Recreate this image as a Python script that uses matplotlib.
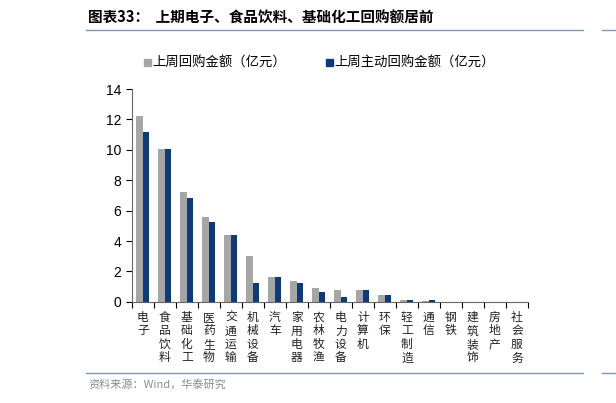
import matplotlib.pyplot as plt
import numpy as np
from matplotlib.lines import Line2D
from matplotlib.patches import Rectangle

plt.rcParams['font.family'] = ['Noto Sans CJK SC', 'DejaVu Sans']

categories = ['电子', '食品饮料', '基础化工', '医药生物', '交通运输', '机械设备', '汽车',
              '家用电器', '农林牧渔', '电力设备', '计算机', '环保', '轻工制造', '通信',
              '钢铁', '建筑装饰', '房地产', '社会服务']
total_buyback = [12.23, 10.08, 7.23, 5.61, 4.43, 3.0, 1.64, 1.34, 0.88, 0.81, 0.77,
                 0.42, 0.11, 0.08, 0.02, 0.0, 0.0, 0.0]
active_buyback = [11.18, 10.08, 6.8, 5.24, 4.43, 1.27, 1.64, 1.23, 0.66, 0.29, 0.77,
                  0.42, 0.11, 0.1, 0.0, 0.0, 0.0, 0.0]

GRAY = '#A6A6A6'
NAVY = '#0B3A7E'
LINE = '#7F97B9'

fig = plt.figure(figsize=(6.16, 4.03), dpi=100)
ax = fig.add_axes([0.214, 0.251, 0.643, 0.528])

x = np.arange(len(categories))
w = 0.3
ax.bar(x - w / 2, total_buyback, w, color=GRAY, label='上周回购金额（亿元）')
ax.bar(x + w / 2, active_buyback, w, color=NAVY, label='上周主动回购金额（亿元）')

ax.set_xlim(-0.5, len(categories) - 0.5)
ax.set_ylim(0, 14)
ax.set_yticks(range(0, 15, 2))
ax.tick_params(axis='y', labelsize=10, length=4, direction='out', width=0.8)
for lbl in ax.get_yticklabels():
    lbl.set_fontfamily(['Liberation Sans', 'DejaVu Sans'])

ax.set_xticks(np.arange(-0.5, len(categories), 1.0))
ax.set_xticklabels([])
ax.tick_params(axis='x', length=4, direction='out', width=0.8)
for i, c in enumerate(categories):
    ax.text(i, -0.6, '\n'.join(c), ha='center', va='top', fontsize=8.5,
            linespacing=1.05, color='#222222')

for s in ['top', 'right']:
    ax.spines[s].set_visible(False)
ax.spines['left'].set_color('#666666')
ax.spines['bottom'].set_color('#666666')

# legend (square markers as patches)
sq_w, sq_h = 0.011, 0.017
fig.add_artist(Rectangle((0.234, 0.845 - sq_h / 2), sq_w, sq_h, color=GRAY,
                         transform=fig.transFigure))
fig.text(0.247, 0.845, '上周回购金额（亿元）', fontsize=9.6, va='center', ha='left')
fig.add_artist(Rectangle((0.530, 0.845 - sq_h / 2), sq_w, sq_h, color=NAVY,
                         transform=fig.transFigure))
fig.text(0.543, 0.845, '上周主动回购金额（亿元）', fontsize=9.6, va='center', ha='left')

# title and frame lines
fig.text(0.143, 0.955, '图表33：  上期电子、食品饮料、基础化工回购额居前', fontsize=10.5,
         fontweight='bold', va='center', ha='left')
fig.add_artist(Line2D([0.14, 0.947], [0.926, 0.926], color=LINE, lw=1))
fig.add_artist(Line2D([0.978, 1.0], [0.926, 0.926], color=LINE, lw=1))
fig.add_artist(Line2D([0.14, 0.947], [0.074, 0.074], color=LINE, lw=1))
fig.add_artist(Line2D([0.978, 1.0], [0.074, 0.074], color=LINE, lw=1))
fig.text(0.143, 0.047, '资料来源：Wind，华泰研究', fontsize=8, color='#8C8C8C',
         va='center', ha='left')

fig.savefig('out.png', dpi=100, facecolor='white')
